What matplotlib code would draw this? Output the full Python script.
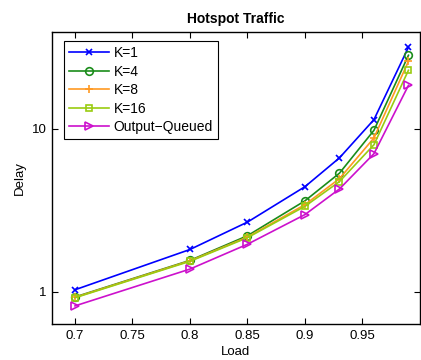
import numpy as np
import matplotlib
matplotlib.use('Agg')
import matplotlib.pyplot as plt
from matplotlib.ticker import FixedLocator, NullLocator

plt.rcParams['font.family'] = ['Liberation Sans', 'DejaVu Sans']

load = [0.7, 0.8, 0.85, 0.9, 0.93, 0.96, 0.99]
k1 = [1.03, 1.82, 2.68, 4.42, 6.64, 11.4, 31.7]
k4 = [0.93, 1.56, 2.21, 3.62, 5.35, 9.8, 28.3]
k8 = [0.925, 1.55, 2.17, 3.43, 4.95, 8.8, 26.0]
k16 = [0.92, 1.54, 2.15, 3.35, 4.75, 8.0, 22.9]
oq = [0.82, 1.38, 1.96, 2.98, 4.28, 7.05, 18.5]

labels = ['K=1', 'K=4', 'K=8', 'K=16', 'Output\u2212Queued']
colors = ['#0000ff', '#1a8c1a', '#ff9922', '#99cc11', '#cc11cc']
markers = ['x', 'o', '+', 's', '>']
msizes = [4, 5.5, 6, 5, 6]

fig = plt.figure(figsize=(4.21, 3.6), dpi=100)
ax = fig.add_axes([0.1235, 0.1, 0.874, 0.812])

for ys, lab, c, m, ms in zip([k1, k4, k8, k16, oq], labels, colors, markers, msizes):
    ax.plot(load, ys, color=c, marker=m, label=lab, lw=1.2,
            markersize=ms, markerfacecolor='none',
            markeredgecolor=c, markeredgewidth=1.2)

ax.set_yscale('log')
ax.set_xlim(0.68, 1.0)
ax.set_ylim(0.635, 39.5)
ax.set_xticks([0.7, 0.75, 0.8, 0.85, 0.9, 0.95])
ax.set_xticklabels(['0.7', '0.75', '0.8', '0.85', '0.9', '0.95'])
ax.yaxis.set_major_locator(FixedLocator([1, 10]))
ax.yaxis.set_minor_locator(NullLocator())
ax.set_yticklabels(['1', '10'])
ax.tick_params(direction='in', top=True, right=True, length=4, labelsize=9.5, width=0.8, pad=4)
for s in ax.spines.values():
    s.set_linewidth(1.0)

ax.set_xlabel('Load', fontsize=9.5, labelpad=3)
ax.set_ylabel('Delay', fontsize=9.5, labelpad=4)
ax.set_title('Hotspot Traffic', fontsize=10, fontweight='bold', pad=6)

leg = ax.legend(loc='upper left', fontsize=10, fancybox=False, framealpha=1,
                edgecolor='black', borderpad=0.35, labelspacing=0.32,
                handlelength=2.9, handletextpad=0.3,
                bbox_to_anchor=(0.033, 0.967), borderaxespad=0)
leg.get_frame().set_linewidth(0.8)

fig.savefig('out.png', dpi=100)
